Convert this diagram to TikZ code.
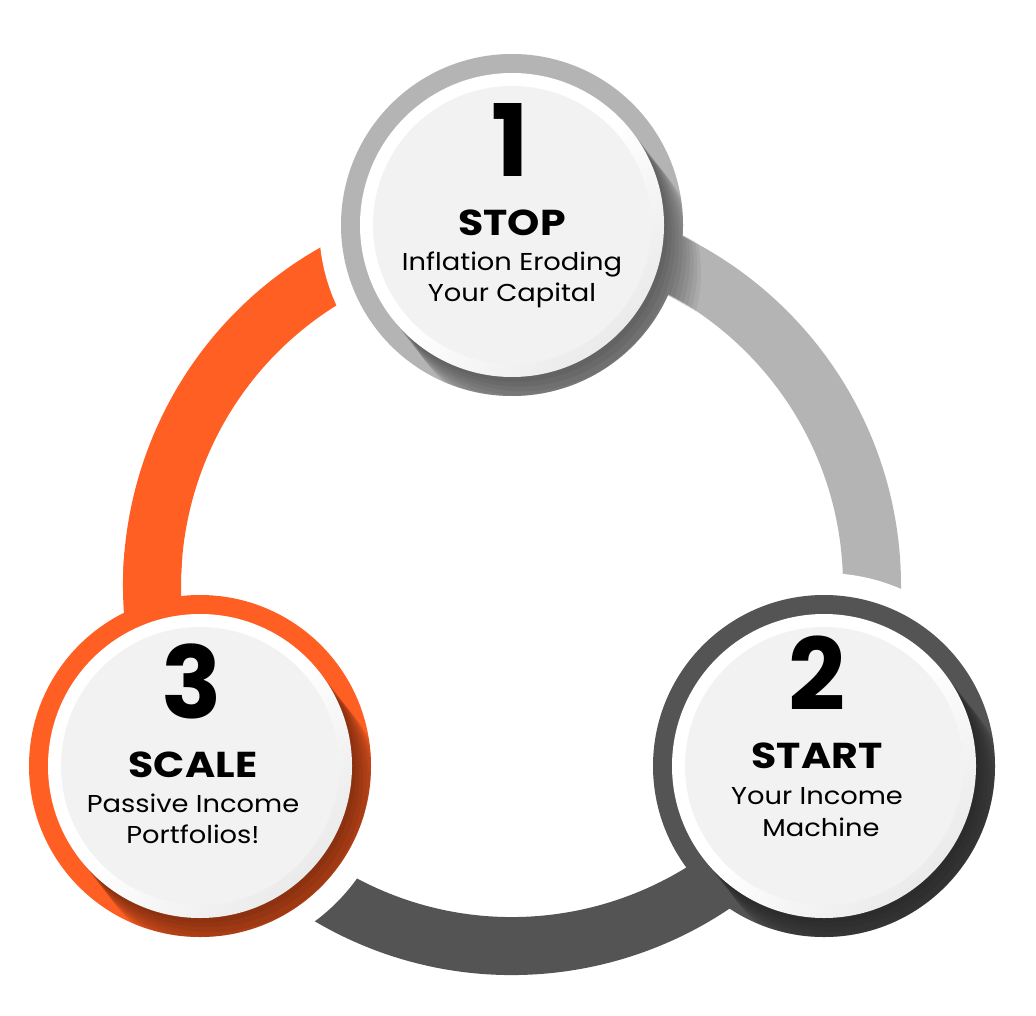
\documentclass[tikz,border=0pt]{standalone}
\usepackage{fontspec}
\newfontfamily\pop{Poppins}
\newfontfamily\popw{Poppins}[FakeStretch=1.12]
\newfontfamily\poph{Poppins}[FakeStretch=1.14]
\usetikzlibrary{calc}
\definecolor{cgray}{HTML}{B4B4B4}
\definecolor{cdark}{HTML}{545454}
\definecolor{corange}{HTML}{FF5F23}
\definecolor{cdisk}{HTML}{F2F2F2}
\pgfdeclarehorizontalshading{bevel}{100bp}{color(0bp)=(white); color(50bp)=(white); color(75bp)=(white!92!black); color(100bp)=(white!70!black)}
\tikzset{
  ring/.style={line width=29pt},
  gap/.style={fill=white},
  numtxt/.style={anchor=base, inner sep=0pt, font=\pop\bfseries\fontsize{50}{50}\selectfont},
  headtxt/.style={anchor=base, inner sep=0pt, font=\poph\bfseries\fontsize{18}{18}\selectfont},
  subtxt/.style={anchor=base, inner sep=0pt, font=\popw\fontsize{12.2}{12}\selectfont},
}
\newcommand\shadowdisks[1]{%
  \foreach \d in {6,12,...,60} \fill[black,opacity=0.055] ($(#1)+(52:\d)$) circle[radius=152];}
\newcommand\stepdisk[2]{%
  \fill[#2] (#1) circle[radius=171];
  \begin{scope}
    \clip (#1) circle[radius=171];
    \shadowdisks{#1}
  \end{scope}
  \shade[shading=bevel, shading angle=-45] (#1) circle[radius=152];
  \fill[cdisk] (#1) circle[radius=139];}
\begin{document}
\begin{tikzpicture}[x=0.5pt,y=-0.5pt]
\useasboundingbox[fill=white] (0,0) rectangle (1036,1015);
\coordinate (O) at (512,586);
\coordinate (C1) at (512,225);
\coordinate (C2) at (824,766);
\coordinate (C3) at (200,766);
% arcs
\draw[ring, corange] ($(O)+(150:360)$) arc[start angle=150, end angle=270, radius=360];
\fill[gap] (C1) circle[radius=193];
\draw[ring, cgray] ($(O)+(270:360)$) arc[start angle=270, end angle=390, radius=360];
\fill[gap] (C2) circle[radius=193];
\draw[ring, cdark] ($(O)+(30:360)$) arc[start angle=30, end angle=150, radius=360];
\fill[gap] (C3) circle[radius=193];
\draw[ring, corange] ($(O)+(150:360)$) arc[start angle=150, end angle=185, radius=360];
% shadow of circle 1 on the gray arc
\begin{scope}
  \clip ($(O)+(270:390)$) arc[start angle=270, end angle=330, radius=390]
     -- ($(O)+(330:330)$) arc[start angle=330, end angle=270, radius=330] -- cycle;
  \shadowdisks{C1}
\end{scope}
% circles
\stepdisk{C1}{cgray}
\stepdisk{C2}{cdark}
\stepdisk{C3}{corange}
% texts
\node[numtxt] (n1) at ($(C1)+(-2,-48)$) {1};
\node[headtxt] (h1) at ($(C1)+(0,11)$) {STOP};
\node[subtxt] (a1) at ($(C1)+(0,46)$) {Inflation Eroding};
\node[subtxt] (b1) at ($(C1)+(0,77)$) {Your Capital};
\node[numtxt] (n2) at ($(C2)+(-7,-56)$) {2};
\node[headtxt] (h2) at ($(C2)+(-7,2)$) {START};
\node[subtxt] (a2) at ($(C2)+(-7,38)$) {Your Income};
\node[subtxt] (b2) at ($(C2)+(-3,70)$) {Machine};
\node[numtxt] (n3) at ($(C3)+(-8,-48)$) {3};
\node[headtxt] (h3) at ($(C3)+(-7,11)$) {SCALE};
\node[subtxt] (a3) at ($(C3)+(-7,46)$) {Passive Income};
\node[subtxt] (b3) at ($(C3)+(-7,77)$) {Portfolios!};
\end{tikzpicture}
\end{document}
